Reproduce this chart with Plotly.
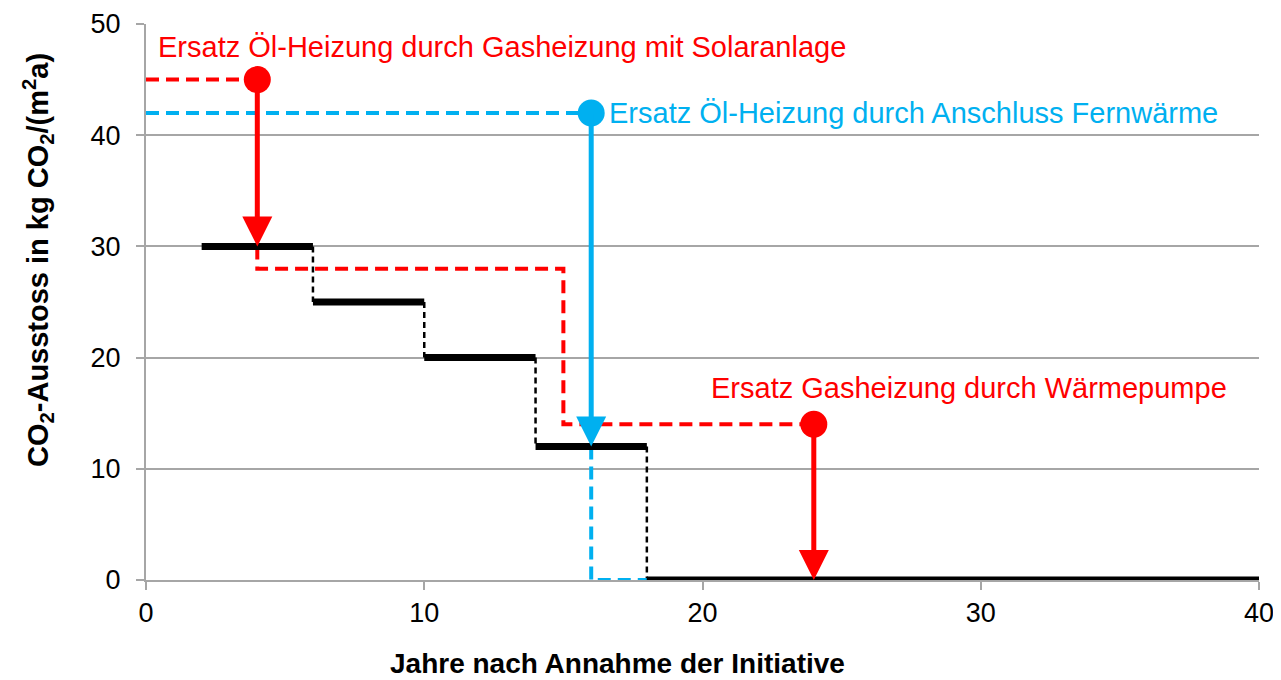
import plotly.graph_objects as go

# Data
black_years = [2, 6, 10, 14, 18, 40]
black_levels = [30, 25, 20, 12, 0]

red_dash_x = [0, 4]
red_dash_y = [45, 45]
red_path2_x = [4, 4, 15, 15, 24]
red_path2_y = [30, 28, 28, 14, 14]

blue_dash_x = [0, 16]
blue_dash_y = [42, 42]
blue_path2_x = [16, 16, 18]
blue_path2_y = [12, 0, 0]

arrows = [  # (x, y_from, y_to, color)
    (4, 45, 30, "#FF0000"),
    (16, 42, 12, "#00B0F0"),
    (24, 14, 0, "#FF0000"),
]
marker_x = [4, 16, 24]
marker_y = [45, 42, 14]
marker_col = ["#FF0000", "#00B0F0", "#FF0000"]

labels = [
    ("Ersatz Öl-Heizung durch Gasheizung mit Solaranlage", 0.35, 47.9, "#FF0000"),
    ("Ersatz Öl-Heizung durch Anschluss Fernwärme", 16.55, 42.0, "#00B0F0"),
    ("Ersatz Gasheizung durch Wärmepumpe", 20.25, 17.3, "#FF0000"),
]

x_ticks = [0, 10, 20, 30, 40]
y_ticks = [0, 10, 20, 30, 40, 50]

RED = "#FF0000"
BLUE = "#00B0F0"
FONT = "Liberation Sans, Arial, sans-serif"
GRID = "#A6A6A6"

fig = go.Figure()

# black dashed connectors
for i in range(1, len(black_levels)):
    fig.add_trace(go.Scatter(
        x=[black_years[i], black_years[i]], y=[black_levels[i - 1], black_levels[i]],
        mode="lines", line=dict(color="black", width=2.5, dash="6px,4px"),
        hoverinfo="skip", showlegend=False))

# red/blue dashed
for xs, ys, col in [(red_dash_x, red_dash_y, RED), (red_path2_x, red_path2_y, RED),
                    (blue_dash_x, blue_dash_y, BLUE), (blue_path2_x, blue_path2_y, BLUE)]:
    fig.add_trace(go.Scatter(x=xs, y=ys, mode="lines",
                             line=dict(color=col, width=4, dash="13px,7px"),
                             hoverinfo="skip", showlegend=False))

# black solid steps
for i in range(len(black_levels)):
    fig.add_trace(go.Scatter(
        x=[black_years[i], black_years[i + 1]], y=[black_levels[i], black_levels[i]],
        mode="lines", line=dict(color="black", width=7),
        hoverinfo="skip", showlegend=False))

# arrows
for (ax_, y0, y1, col) in arrows:
    fig.add_annotation(x=ax_, y=y1, ax=ax_, ay=y0, xref="x", yref="y", axref="x", ayref="y",
                       showarrow=True, arrowhead=2, arrowsize=1.2, arrowwidth=5,
                       arrowcolor=col, text="")

# markers
fig.add_trace(go.Scatter(x=marker_x, y=marker_y, mode="markers",
                         marker=dict(color=marker_col, size=27, line=dict(width=0)),
                         hoverinfo="skip", showlegend=False))

for (t, x, y, col) in labels:
    fig.add_annotation(x=x, y=y, xref="x", yref="y", text=t, showarrow=False,
                       xanchor="left", yanchor="middle",
                       font=dict(family=FONT, size=29, color=col))

# axis titles
fig.add_annotation(x=(38 - 146) / 1113, y=(580 - 260) / 556, xref="paper", yref="paper",
                   text="<b>CO<sub>2</sub>-Ausstoss in kg CO<sub>2</sub>/(m<sup>2</sup>a)</b>",
                   textangle=-90, showarrow=False, xanchor="center", yanchor="middle",
                   font=dict(family=FONT, size=29, color="black"))
fig.add_annotation(x=(617 - 146) / 1113, y=(580 - 663) / 556, xref="paper", yref="paper",
                   text="<b>Jahre nach Annahme der Initiative</b>",
                   showarrow=False, xanchor="center", yanchor="middle",
                   font=dict(family=FONT, size=28, color="black"))

fig.update_layout(
    width=1273, height=672,
    margin=dict(l=138, r=22, t=16, b=100, autoexpand=False),
    plot_bgcolor="white", paper_bgcolor="white",
    font=dict(family=FONT, size=24, color="black"),
    xaxis=dict(range=[0, 40], tickvals=x_ticks, showgrid=False, automargin=False,
               showline=True, linecolor=GRID, linewidth=2,
               ticks="outside", tickcolor=GRID, ticklen=8, tickwidth=2,
               tickfont=dict(size=27, color="black"), zeroline=False),
    yaxis=dict(range=[0, 50], tickvals=y_ticks, showgrid=True, automargin=False,
               gridcolor=GRID, gridwidth=2, ticklabelstandoff=10,
               showline=True, linecolor=GRID, linewidth=2,
               ticks="outside", tickcolor=GRID, ticklen=8, tickwidth=2,
               tickfont=dict(size=27, color="black"), zeroline=False),
)

fig.write_html("out.html")
